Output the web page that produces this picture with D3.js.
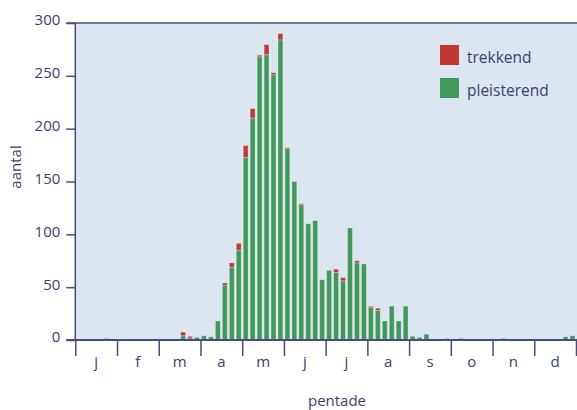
<!DOCTYPE html>
<html>
<head>
<meta charset="utf-8">
<script src="https://cdn.jsdelivr.net/npm/d3@7"></script>
<style>
  body { margin: 0; background: #fff; }
  svg text { font-family: "Open Sans", "Noto Sans", sans-serif; fill: #3d3d70; }
</style>
</head>
<body>
<div id="chart"></div>
<script>
const width = 577,
      height = 410;

// pentade data, 6 per month
const months = ["j", "f", "m", "a", "m", "j", "j", "a", "s", "o", "n", "d"];
const pleisterend = [
  0, 0, 0.5, 0.5, 1.5, 0,
  0, 0, 0.5, 0.5, 0, 0,
  0.5, 0.5, 0.5, 4, 2, 2.5,
  4, 3, 18, 52, 69, 85,
  173, 210, 268, 270, 251, 284,
  181, 150, 128, 110, 113, 57,
  66, 64, 56, 106, 73, 72,
  31, 28, 18, 32, 18, 32,
  3.5, 2.5, 5.5, 0.5, 0, 1.5,
  0, 1.5, 0.5, 0, 0.5, 0,
  0, 1.5, 0, 0, 0.5, 0,
  0, 0, 0.5, 0.5, 3, 4
];
const trekkend = [
  0, 0, 0, 0, 0, 0,
  0, 0, 0, 0, 0, 0,
  0, 0, 0, 3.5, 1.5, 0,
  0, 0, 0, 2, 4, 6.5,
  11, 9, 1.5, 9.5, 2, 6,
  1, 0, 1, 0, 0, 0,
  0, 3, 3, 0, 2, 0,
  1, 2, 0, 0, 0, 0,
  0, 0, 0, 0, 0, 0,
  0, 0, 0, 0, 0, 0,
  0, 0, 0, 0, 0, 0,
  0, 0, 0, 0, 0, 0
];
const yTicks = [0, 50, 100, 150, 200, 250, 300];
const seriesNames = ["trekkend", "pleisterend"];
const colors = {trekkend: "#c13a32", pleisterend: "#42975a"};

const plotLeft = 75.3, plotRight = 576, plotTop = 23, plotBottom = 340;

const rows = pleisterend.map((p, i) => ({i: i, pleisterend: p, trekkend: trekkend[i]}));
const stack = d3.stack().keys(["pleisterend", "trekkend"])(rows);

const x = d3.scaleBand()
  .domain(d3.range(pleisterend.length))
  .range([plotLeft, plotRight])
  .paddingInner(0.3)
  .paddingOuter(0.15);
const xm = d3.scaleLinear().domain([0, 12]).range([plotLeft, plotRight]);
const xmb = d3.scaleBand().domain(d3.range(12)).range([plotLeft, plotRight]);
const y = d3.scaleLinear().domain([0, 300]).range([plotBottom, plotTop]);

const svg = d3.select("#chart")
  .append("svg")
  .attr("width", width)
  .attr("height", height);

svg.append("rect")
  .attr("x", plotLeft)
  .attr("y", plotTop)
  .attr("width", width - plotLeft)
  .attr("height", plotBottom - plotTop)
  .style("fill", "#dbe6f0");

svg.selectAll("g.layer")
  .data(stack)
  .enter()
  .append("g")
  .attr("class", "layer")
  .style("fill", d => colors[d.key])
  .selectAll("rect")
  .data(d => d)
  .enter()
  .append("rect")
  .attr("x", d => x(d.data.i))
  .attr("width", x.bandwidth())
  .attr("y", d => y(d[1]))
  .attr("height", d => Math.max(0, y(d[0]) - y(d[1])))
  .style("stroke", "rgba(255,255,255,0.35)")
  .style("stroke-width", 0.8);

// y axis
const yAxis = svg.append("g")
  .attr("transform", `translate(${plotLeft},0)`)
  .call(d3.axisLeft(y).tickValues(yTicks).tickSize(9).tickPadding(6).tickSizeOuter(0));
yAxis.select(".domain").remove();
yAxis.selectAll("line").style("stroke", "#4b4b7d").style("stroke-width", 1.5);
yAxis.selectAll("text")
  .attr("dy", "0.13em")
  .style("font-size", "15px");

// frame lines
svg.append("line")
  .attr("x1", plotLeft).attr("x2", plotLeft)
  .attr("y1", plotTop).attr("y2", plotBottom)
  .style("stroke", "#4b4b7d").style("stroke-width", 1.5);
svg.append("line")
  .attr("x1", plotLeft - 9).attr("x2", width)
  .attr("y1", plotTop).attr("y2", plotTop)
  .style("stroke", "#4b4b7d").style("stroke-width", 1.5);
svg.append("line")
  .attr("x1", plotLeft - 9).attr("x2", width)
  .attr("y1", plotBottom).attr("y2", plotBottom)
  .style("stroke", "#4b4b7d").style("stroke-width", 1.8);

// month ticks
const mAxis = svg.append("g")
  .attr("transform", `translate(0,${plotBottom})`)
  .call(d3.axisBottom(xm).tickValues(d3.range(13)).tickSize(16).tickFormat(""));
mAxis.select(".domain").remove();
mAxis.selectAll("line").style("stroke", "#4b4b7d").style("stroke-width", 1.5);

// month labels
const lAxis = svg.append("g")
  .attr("transform", `translate(0,${plotBottom})`)
  .call(d3.axisBottom(xmb).tickSize(0).tickPadding(0).tickFormat(i => months[i]));
lAxis.select(".domain").remove();
lAxis.selectAll("text")
  .attr("y", 27)
  .attr("dy", 0)
  .style("font-size", "15px");

svg.append("text")
  .attr("x", 337)
  .attr("y", 406)
  .attr("text-anchor", "middle")
  .style("font-size", "15px")
  .text("pentade");

svg.append("text")
  .attr("transform", "translate(21,167) rotate(-90)")
  .attr("text-anchor", "middle")
  .style("font-size", "15px")
  .text("aantal");

// legend
const legend = svg.selectAll("g.legend")
  .data(seriesNames)
  .enter()
  .append("g")
  .attr("class", "legend")
  .attr("transform", (d, i) => `translate(440,${45 + i * 33})`);
legend.append("rect")
  .attr("width", 19)
  .attr("height", 20)
  .style("fill", d => colors[d]);
legend.append("text")
  .attr("x", 27)
  .attr("y", 18)
  .style("font-size", "15.5px")
  .text(d => d);
</script>
</body>
</html>
